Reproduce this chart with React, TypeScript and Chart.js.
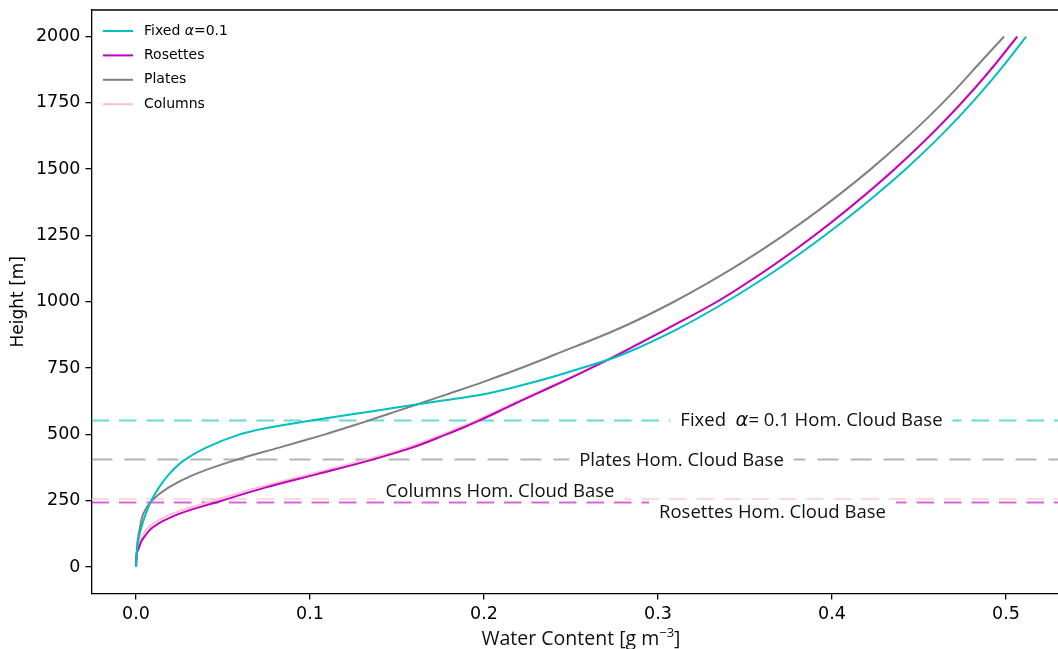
import React, { useEffect, useRef } from "react";
import { Chart, registerables } from "chart.js";

Chart.register(...registerables);

// ---------- data ----------
const heights = [0, 25, 50, 75, 100, 150, 200, 250, 300, 350, 400, 450, 500, 525, 550, 575, 600, 625, 650, 700, 750, 800, 900, 1000, 1100, 1200, 1300, 1400, 1500, 1600, 1700, 1800, 1900, 2000];

const fixedAlpha = [0, 0.0002, 0.0004, 0.0008, 0.0012, 0.0031, 0.0056, 0.0088, 0.0132, 0.019, 0.0271, 0.0403, 0.0596, 0.0759, 0.0987, 0.1232, 0.1488, 0.1736, 0.199, 0.2305, 0.2562, 0.2792, 0.312, 0.3392, 0.3635, 0.3855, 0.4058, 0.4247, 0.4423, 0.4585, 0.4734, 0.4871, 0.4998, 0.5116];

const rosettes = [0, 0.0002, 0.0004, 0.0018, 0.0033, 0.0097, 0.0247, 0.0492, 0.0747, 0.1042, 0.1332, 0.1587, 0.1785, 0.1878, 0.1965, 0.2048, 0.2127, 0.2209, 0.229, 0.2456, 0.2615, 0.2768, 0.3058, 0.3339, 0.3579, 0.3797, 0.3998, 0.4185, 0.436, 0.4523, 0.4674, 0.4814, 0.4944, 0.5065];

const plates = [0, 0.0001, 0.0003, 0.0006, 0.0009, 0.0023, 0.0041, 0.0091, 0.0188, 0.034, 0.0557, 0.0822, 0.1087, 0.1207, 0.1327, 0.1442, 0.1557, 0.167, 0.1783, 0.2005, 0.2213, 0.2405, 0.278, 0.3092, 0.3364, 0.3608, 0.383, 0.4034, 0.4223, 0.4398, 0.456, 0.471, 0.4849, 0.4989];

const columns = [0, 0.0001, 0.0003, 0.001, 0.0022, 0.0072, 0.0205, 0.0447, 0.0704, 0.1002, 0.1296, 0.1558, 0.1762, 0.1857, 0.1946, 0.2031, 0.2112, 0.2195, 0.2278, 0.2446, 0.2607, 0.2761, 0.3052, 0.3334, 0.3574, 0.3792, 0.3993, 0.418, 0.4355, 0.4518, 0.4669, 0.481, 0.494, 0.5062];

const seriesLabels = ["Fixed α=0.1", "Rosettes", "Plates", "Columns"];
const seriesColors = ["#00bfbf", "#bf00bf", "#808080", "#ffc0cb"];

// homogeneous cloud base heights [m]: fixed, rosettes, plates, columns
const cloudBaseHeights = [552, 243, 405, 256];
const cloudBaseColors = ["rgba(0,191,191,0.6)", "rgba(191,0,191,0.6)", "rgba(128,128,128,0.6)", "rgba(255,192,203,0.6)"];
const cloudBaseLabels = ["Fixed  α= 0.1 Hom. Cloud Base", "Rosettes Hom. Cloud Base", "Plates Hom. Cloud Base", "Columns Hom. Cloud Base"];
// label anchors in data units (water content, height)
const cloudBaseLabelX = [0.3882, 0.3658, 0.3135, 0.2092];
const cloudBaseLabelY = [555, 208, 405, 288];

const xTicks = [0, 0.1, 0.2, 0.3, 0.4, 0.5];
const yTicks = [0, 250, 500, 750, 1000, 1250, 1500, 1750, 2000];
const xRange = [-0.0256, 0.5371];
const yRange = [-100, 2100];

const LABEL_FONT = '18.5px "Open Sans"';
const ALPHA_FONT = 'italic 19.5px "DejaVu Sans"';

function drawPieces(ctx: CanvasRenderingContext2D, pieces: { t: string; f: string; dy?: number }[], cx: number, baseline: number, box: boolean) {
  const widths = pieces.map((p) => {
    ctx.font = p.f;
    return ctx.measureText(p.t).width;
  });
  const total = widths.reduce((a, b) => a + b, 0);
  let x = cx - total / 2;
  if (box) {
    ctx.fillStyle = "#ffffff";
    ctx.fillRect(x - 10, baseline - 17.5, total + 20, 21);
  }
  ctx.fillStyle = "#111111";
  ctx.textBaseline = "alphabetic";
  ctx.textAlign = "left";
  pieces.forEach((p, i) => {
    ctx.font = p.f;
    ctx.fillText(p.t, x, baseline + (p.dy || 0));
    x += widths[i];
  });
}

function splitAlpha(text: string, normal: string, alphaFont: string) {
  const idx = text.indexOf("α");
  if (idx < 0) return [{ t: text, f: normal }];
  return [
    { t: text.slice(0, idx), f: normal },
    { t: "α", f: alphaFont },
    { t: text.slice(idx + 1), f: normal },
  ].filter((p) => p.t.length > 0);
}

const decorPlugin = {
  id: "decor",
  afterDatasetsDraw(chart: any) {
    const { ctx, scales } = chart;
    const x = scales.x;
    const y = scales.y;
    ctx.save();
    cloudBaseLabels.forEach((lab, i) => {
      const cx = x.getPixelForValue(cloudBaseLabelX[i]);
      const base = y.getPixelForValue(cloudBaseLabelY[i]) + 6.6;
      drawPieces(ctx, splitAlpha(lab, LABEL_FONT, ALPHA_FONT), cx, base, true);
    });
    ctx.restore();
  },
  afterDraw(chart: any) {
    const { ctx, chartArea: a } = chart;
    ctx.save();
    // top spine
    ctx.strokeStyle = "#000";
    ctx.lineWidth = 1.3;
    ctx.beginPath();
    ctx.moveTo(a.left - 0.65, a.top);
    ctx.lineTo(a.right, a.top);
    ctx.stroke();

    // legend
    const ds = chart.data.datasets.slice(0, seriesLabels.length);
    ds.forEach((d: any, i: number) => {
      const ly = a.top + 21 + i * 24.4;
      ctx.strokeStyle = d.borderColor;
      ctx.lineWidth = 2;
      ctx.beginPath();
      ctx.moveTo(a.left + 11.5, ly);
      ctx.lineTo(a.left + 41.5, ly);
      ctx.stroke();
      const pieces = splitAlpha(d.label, '14px "DejaVu Sans"', 'italic 14px "DejaVu Sans"');
      let tx = a.left + 52.5;
      ctx.fillStyle = "#000";
      ctx.textBaseline = "middle";
      ctx.textAlign = "left";
      pieces.forEach((p) => {
        ctx.font = p.f;
        ctx.fillText(p.t, tx, ly);
        tx += ctx.measureText(p.t).width;
      });
    });

    // x axis title with superscript
    const cx = (a.left + a.right) / 2;
    drawPieces(
      ctx,
      [
        { t: "Water Content [g m", f: '19.5px "Open Sans"' },
        { t: "−3", f: '13px "Open Sans"', dy: -8 },
        { t: "]", f: '19.5px "Open Sans"' },
      ],
      cx,
      645,
      false
    );
    ctx.restore();
  },
};

export default function App() {
  const ref = useRef<HTMLCanvasElement | null>(null);

  useEffect(() => {
    if (!ref.current) return;
    const series = [fixedAlpha, rosettes, plates, columns];
    const curveSets = series.map((vals, i) => ({
      label: seriesLabels[i],
      data: heights.map((h, k) => ({ x: vals[k], y: h })),
      borderColor: seriesColors[i],
      backgroundColor: seriesColors[i],
      borderWidth: 2,
      pointRadius: 0,
      fill: false,
      tension: 0.35,
    }));
    const baseSets = cloudBaseHeights.map((h, i) => ({
      label: cloudBaseLabels[i],
      data: [
        { x: xRange[0], y: h },
        { x: xRange[1], y: h },
      ],
      borderColor: cloudBaseColors[i],
      backgroundColor: cloudBaseColors[i],
      borderWidth: 2,
      borderDash: i === 2 ? [21, 12] : [17.5, 10],
      pointRadius: 0,
      fill: false,
      tension: 0,
    }));

    const chart = new Chart(ref.current, {
      type: "line",
      data: { datasets: [...curveSets, ...baseSets] as any },
      plugins: [decorPlugin],
      options: {
        animation: false,
        responsive: false,
        devicePixelRatio: 1,
        layout: { padding: { left: 0, top: 10, right: 1.5, bottom: 0 } },
        plugins: {
          legend: { display: false },
          tooltip: { enabled: false },
        },
        scales: {
          x: {
            type: "linear",
            min: xRange[0],
            max: xRange[1],
            afterBuildTicks: (s: any) => {
              s.ticks = xTicks.map((v) => ({ value: v }));
            },
            afterFit: (s: any) => {
              s.height = 55.5;
              s.paddingLeft = 0;
              s.paddingRight = 0;
            },
            ticks: {
              callback: (v: any) => Number(v).toFixed(1),
              font: { family: "DejaVu Sans", size: 17.5 },
              color: "#000",
              padding: 4,
              maxRotation: 0,
              autoSkip: false,
            },
            grid: { drawOnChartArea: false, drawTicks: true, tickLength: 6, color: "#000", lineWidth: 1.3 },
            border: { display: true, color: "#000", width: 1.3 },
          },
          y: {
            type: "linear",
            min: yRange[0],
            max: yRange[1],
            afterBuildTicks: (s: any) => {
              s.ticks = yTicks.map((v) => ({ value: v }));
            },
            afterFit: (s: any) => {
              s.width = 91.5;
              s.paddingTop = 0;
              s.paddingBottom = 0;
            },
            ticks: {
              callback: (v: any) => String(v),
              font: { family: "DejaVu Sans", size: 17.5 },
              color: "#000",
              padding: 5,
              autoSkip: false,
            },
            title: {
              display: true,
              text: "Height [m]",
              font: { family: "DejaVu Sans", size: 17 },
              color: "#000",
              padding: { top: 8, bottom: 0 },
            },
            grid: { drawOnChartArea: false, drawTicks: true, tickLength: 6, color: "#000", lineWidth: 1.3 },
            border: { display: true, color: "#000", width: 1.3 },
          },
        },
      },
    });
    return () => chart.destroy();
  }, []);

  return (
    <div style={{ position: "fixed", left: 0, top: 0, width: 1058, height: 649, overflow: "hidden", background: "#fff" }}>
      <canvas ref={ref} width={1072} height={649} style={{ display: "block" }} />
    </div>
  );
}
